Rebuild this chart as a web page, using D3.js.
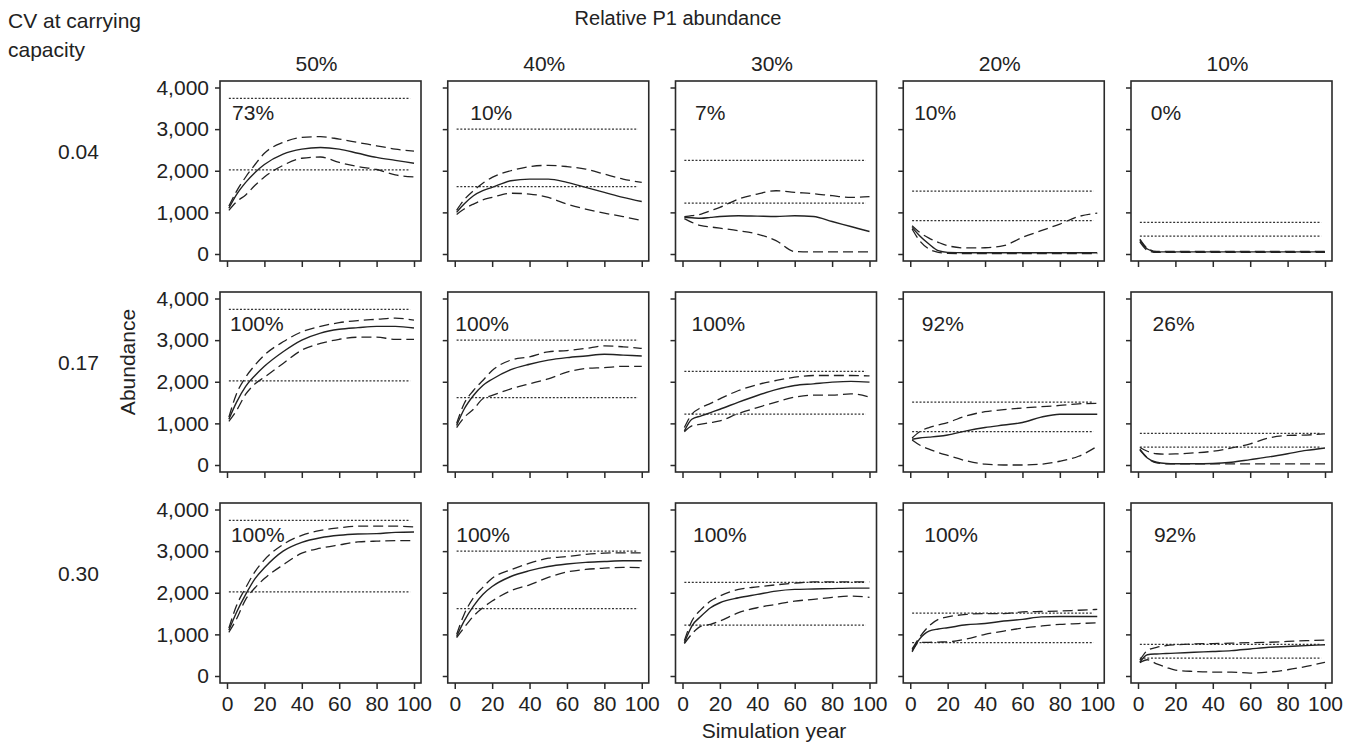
<!DOCTYPE html>
<html>
<head>
<meta charset="utf-8">
<script src="https://cdn.jsdelivr.net/npm/d3@7"></script>
<style>
  body { margin: 0; background: #fff; }
  text { font-family: Arial, "Liberation Sans", sans-serif; fill: #222; }
</style>
</head>
<body>
<svg id="chart" width="1364" height="744"></svg>
<script>
const years = [1, 5, 10, 15, 20, 30, 40, 50, 60, 70, 80, 90, 100];

const p1Labels = ["50%", "40%", "30%", "20%", "10%"];
const cvLabels = ["0.04", "0.17", "0.30"];
const yTicks = [0, 1000, 2000, 3000, 4000];
const xTicks = [0, 20, 40, 60, 80, 100];

// dotted reference levels per column
const refUpper = [3740, 3000, 2250, 1510, 760];
const refLower = [2020, 1620, 1220, 800, 430];

// percentage printed in each panel, rows = CV
const pctLabels = [
  ["73%", "10%", "7%", "10%", "0%"],
  ["100%", "100%", "100%", "92%", "26%"],
  ["100%", "100%", "100%", "100%", "92%"]
];
// simulation year where each percentage label starts
const pctLabelYear = [
  [2.7, 8.3, 6.7, 2.1, 6.8],
  [1.6, 0.3, 4.8, 6.2, 7.8],
  [2.1, 0.8, 5.6, 7.5, 8.5]
];

// CV 0.04
const median004 = [
  [1100, 1420, 1720, 1960, 2150, 2400, 2520, 2560, 2520, 2420, 2320, 2250, 2180],
  [1000, 1200, 1400, 1520, 1600, 1760, 1800, 1800, 1720, 1600, 1480, 1360, 1260],
  [880, 870, 860, 880, 900, 920, 910, 900, 920, 900, 780, 660, 540],
  [640, 440, 240, 80, 40, 30, 30, 30, 30, 30, 30, 30, 30],
  [330, 120, 50, 50, 50, 50, 50, 50, 50, 50, 50, 50, 50]
];
const upper004 = [
  [1150, 1500, 1850, 2150, 2420, 2680, 2800, 2820, 2760, 2680, 2600, 2520, 2470],
  [1050, 1300, 1520, 1700, 1840, 2000, 2100, 2130, 2100, 2040, 1920, 1800, 1720],
  [900, 920, 960, 1040, 1120, 1320, 1440, 1520, 1480, 1450, 1400, 1360, 1380],
  [680, 520, 380, 280, 200, 145, 150, 200, 400, 560, 720, 900, 980],
  [360, 140, 60, 60, 60, 60, 60, 60, 60, 60, 60, 60, 60]
];
const lower004 = [
  [1050, 1250, 1420, 1650, 1850, 2130, 2300, 2330, 2200, 2100, 2030, 1900, 1850],
  [950, 1080, 1200, 1300, 1360, 1460, 1440, 1360, 1200, 1080, 980, 900, 800],
  [850, 760, 680, 650, 620, 560, 480, 320, 60, 50, 50, 50, 50],
  [600, 320, 120, 40, 15, 10, 10, 10, 10, 10, 10, 10, 10],
  [290, 90, 40, 40, 40, 40, 40, 40, 40, 40, 40, 40, 40]
];

// CV 0.17
const median017 = [
  [1100, 1500, 1890, 2150, 2370, 2720, 3000, 3170, 3260, 3300, 3330, 3330, 3290],
  [950, 1340, 1670, 1910, 2060, 2290, 2420, 2520, 2580, 2620, 2660, 2640, 2620],
  [820, 1100, 1180, 1260, 1340, 1510, 1670, 1810, 1910, 1950, 1990, 2010, 1990],
  [620, 650, 670, 690, 720, 820, 900, 960, 1020, 1150, 1220, 1220, 1220],
  [380, 170, 65, 35, 30, 30, 35, 65, 130, 195, 270, 350, 410]
];
const upper017 = [
  [1150, 1700, 2110, 2400, 2640, 2960, 3200, 3330, 3420, 3470, 3500, 3530, 3480],
  [1000, 1470, 1790, 2030, 2270, 2520, 2600, 2720, 2750, 2800, 2860, 2840, 2800],
  [900, 1220, 1380, 1480, 1590, 1790, 1930, 2030, 2110, 2150, 2150, 2150, 2140],
  [650, 800, 900, 960, 1020, 1180, 1280, 1330, 1370, 1400, 1430, 1470, 1480],
  [420, 330, 270, 260, 265, 290, 330, 410, 510, 650, 710, 720, 750]
];
const lower017 = [
  [1050, 1300, 1700, 1950, 2110, 2440, 2760, 2920, 3020, 3070, 3070, 3020, 3020],
  [900, 1140, 1340, 1590, 1670, 1830, 1950, 2070, 2230, 2320, 2340, 2370, 2370],
  [800, 940, 980, 1020, 1060, 1240, 1380, 1510, 1630, 1680, 1680, 1710, 1630],
  [600, 480, 380, 300, 230, 100, 20, 0, 0, 20, 90, 210, 450],
  [360, 170, 50, 30, 25, 25, 25, 25, 25, 25, 25, 25, 25]
];

// CV 0.30
const median030 = [
  [1100, 1520, 1960, 2340, 2600, 3000, 3210, 3320, 3380, 3410, 3420, 3450, 3460],
  [950, 1320, 1680, 1960, 2150, 2390, 2530, 2630, 2690, 2730, 2750, 2770, 2770],
  [800, 1200, 1440, 1640, 1760, 1880, 1960, 2040, 2080, 2090, 2100, 2110, 2110],
  [610, 890, 1080, 1130, 1160, 1230, 1260, 1320, 1360, 1420, 1430, 1430, 1430],
  [330, 510, 530, 540, 550, 570, 590, 610, 650, 690, 710, 730, 750]
];
const upper030 = [
  [1150, 1680, 2120, 2510, 2790, 3160, 3380, 3500, 3560, 3600, 3600, 3600, 3580],
  [1000, 1480, 1880, 2130, 2350, 2550, 2710, 2830, 2870, 2920, 2950, 2960, 2960],
  [850, 1320, 1600, 1800, 1920, 2080, 2140, 2190, 2230, 2260, 2260, 2260, 2260],
  [650, 930, 1200, 1360, 1420, 1480, 1500, 1500, 1540, 1550, 1560, 1580, 1600],
  [380, 610, 690, 730, 750, 770, 780, 790, 800, 810, 830, 850, 860]
];
const lower030 = [
  [1050, 1360, 1840, 2120, 2340, 2670, 2950, 3070, 3150, 3220, 3240, 3250, 3250],
  [920, 1160, 1440, 1640, 1800, 2050, 2190, 2370, 2500, 2560, 2590, 2610, 2600],
  [780, 1010, 1200, 1240, 1320, 1520, 1640, 1720, 1800, 1840, 1890, 1920, 1890],
  [580, 810, 810, 815, 820, 890, 1000, 1080, 1150, 1200, 1240, 1260, 1280],
  [320, 390, 290, 210, 140, 110, 95, 95, 70, 95, 150, 230, 330]
];

const medianRows = [median004, median017, median030];
const upperRows = [upper004, upper017, upper030];
const lowerRows = [lower004, lower017, lower030];

// layout
const svg = d3.select("#chart");
const boxW = 201, boxH = 180;
const colLeft = c => 220 + c * 227.75;
const rowTop = r => 81 + r * 211;
const ink = "#222";
const fontSize = 21;

// titles
svg.append("text").attr("x", 8).attr("y", 28).attr("font-size", fontSize).text("CV at carrying");
svg.append("text").attr("x", 8).attr("y", 57).attr("font-size", fontSize).text("capacity");
svg.append("text").attr("x", 678).attr("y", 25).attr("font-size", 20)
  .attr("text-anchor", "middle").text("Relative P1 abundance");
svg.append("text").attr("x", 774).attr("y", 738).attr("font-size", fontSize)
  .attr("text-anchor", "middle").text("Simulation year");
svg.append("text").attr("transform", "translate(135,362) rotate(-90)")
  .attr("font-size", fontSize).attr("text-anchor", "middle").text("Abundance");

p1Labels.forEach((lab, c) => {
  svg.append("text").attr("x", colLeft(c) + boxW / 2 - 4).attr("y", 71)
    .attr("font-size", fontSize).attr("text-anchor", "middle").text(lab);
});
cvLabels.forEach((lab, r) => {
  svg.append("text").attr("x", 58).attr("y", rowTop(r) + 78)
    .attr("font-size", fontSize).text(lab);
});

for (let r = 0; r < 3; r++) {
  for (let c = 0; c < 5; c++) {
    const left = colLeft(c), top = rowTop(r);
    const x = d3.scaleLinear().domain([0, 100]).range([left + 7, left + 194]);
    const y = d3.scaleLinear().domain([0, 4000]).range([top + 173, top + 6.5]);
    const g = svg.append("g");

    // dotted reference lines
    [refUpper[c], refLower[c]].forEach(v => {
      g.append("line")
        .attr("x1", x(1)).attr("x2", x(98))
        .attr("y1", y(v)).attr("y2", y(v))
        .attr("stroke", "#333").attr("stroke-width", 1.2)
        .attr("stroke-dasharray", "2,1.7");
    });

    const line = d3.line()
      .x((d, i) => x(years[i]))
      .y(d => y(d))
      .curve(d3.curveMonotoneX);

    g.append("path").attr("d", line(upperRows[r][c]))
      .attr("fill", "none").attr("stroke", ink).attr("stroke-width", 1.3)
      .attr("stroke-dasharray", "10,5");
    g.append("path").attr("d", line(lowerRows[r][c]))
      .attr("fill", "none").attr("stroke", ink).attr("stroke-width", 1.3)
      .attr("stroke-dasharray", "10,5");
    g.append("path").attr("d", line(medianRows[r][c]))
      .attr("fill", "none").attr("stroke", ink).attr("stroke-width", 1.4);

    // panel frame
    g.append("rect").attr("x", left).attr("y", top)
      .attr("width", boxW).attr("height", boxH)
      .attr("fill", "none").attr("stroke", "#2a2a2a").attr("stroke-width", 1.6);

    // axes
    const yAxis = d3.axisLeft(y).tickValues(yTicks).tickSize(5).tickPadding(6)
      .tickFormat(c === 0 ? d3.format(",") : () => "");
    const ya = g.append("g").attr("transform", `translate(${left},0)`).call(yAxis);
    const xAxis = d3.axisBottom(x).tickValues(xTicks).tickSize(6).tickPadding(7)
      .tickFormat(r === 2 ? d3.format("d") : () => "");
    const xa = g.append("g").attr("transform", `translate(0,${top + boxH})`).call(xAxis);
    [ya, xa].forEach(a => {
      a.select(".domain").remove();
      a.selectAll("line").attr("stroke", "#2a2a2a").attr("stroke-width", 1.5);
      a.selectAll("text").attr("font-size", fontSize)
        .attr("font-family", "Arial, 'Liberation Sans', sans-serif").attr("fill", ink);
    });

    g.append("text").attr("x", x(pctLabelYear[r][c])).attr("y", top + 39)
      .attr("font-size", fontSize).text(pctLabels[r][c]);
  }
}
</script>
</body>
</html>
